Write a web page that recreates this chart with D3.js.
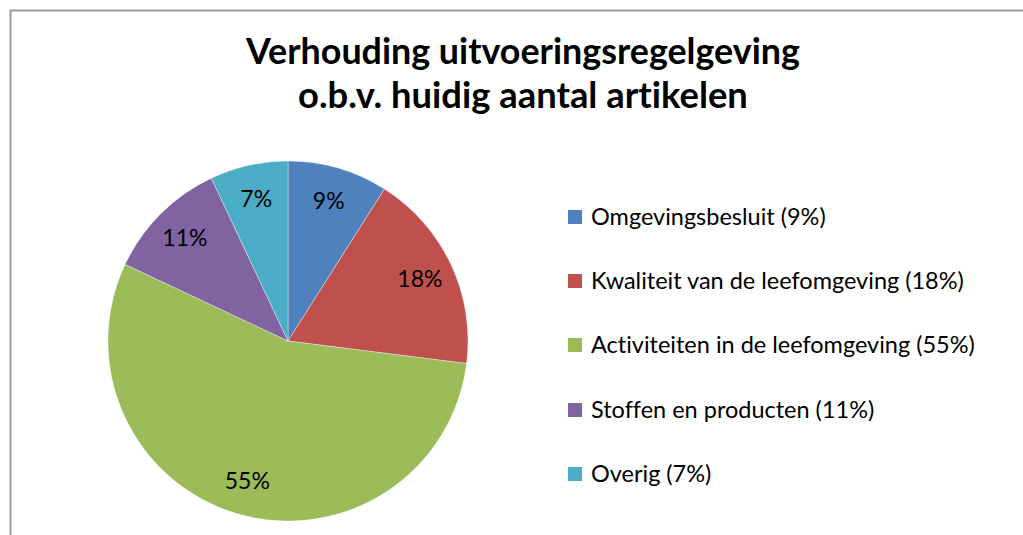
<!DOCTYPE html>
<html>
<head>
<meta charset="utf-8">
<script src="https://cdn.jsdelivr.net/npm/d3@7"></script>
<style>
  html, body { margin: 0; padding: 0; background: #fff; }
  svg { display: block; }
  text { font-variant-ligatures: none; font-feature-settings: "liga" 0, "clig" 0; }
</style>
</head>
<body>
<svg id="chart" width="1023" height="535"></svg>
<script>
const titleLines = ["Verhouding uitvoeringsregelgeving", "o.b.v. huidig aantal artikelen"];
const categories = ["Omgevingsbesluit", "Kwaliteit van de leefomgeving", "Activiteiten in de leefomgeving", "Stoffen en producten", "Overig"];
const values = [9, 18, 55, 11, 7];
const labels = ["9%", "18%", "55%", "11%", "7%"];
const legendLabels = ["Omgevingsbesluit (9%)", "Kwaliteit van de leefomgeving (18%)", "Activiteiten in de leefomgeving (55%)", "Stoffen en producten (11%)", "Overig (7%)"];
const colors = ["#4F81BD", "#C0504D", "#9BBB59", "#8064A2", "#4BACC6"];

const svg = d3.select("#chart");
const FONT = "Lato, 'Open Sans', sans-serif";

// frame
svg.append("rect").attr("x", 10.5).attr("y", 10.5).attr("width", 1100).attr("height", 600)
  .attr("fill", "#fff").attr("stroke", "#9a9a9a").attr("stroke-width", 2);

function fitText(sel, targetWidth, startSize) {
  let size = startSize;
  sel.attr("font-size", size);
  const w = sel.node().getComputedTextLength();
  size = size * targetWidth / w;
  sel.attr("font-size", size);
  return size;
}

// title
const titleWidths = [554, 450];
const titleBase = [64, 108];
titleLines.forEach((t, i) => {
  const tx = svg.append("text").attr("x", 523).attr("y", titleBase[i])
    .attr("text-anchor", "middle").attr("font-family", FONT).attr("font-weight", "bold")
    .attr("fill", "#000").text(t);
  fitText(tx, titleWidths[i], 36);
});

// pie
const cx = 288, cy = 341, R = 180;
const pie = d3.pie().value(d => d).sort(null);
const arcs = pie(values);
const arc = d3.arc().innerRadius(0).outerRadius(R);
const labelArc = d3.arc().innerRadius(R * 0.81).outerRadius(R * 0.81);
const g = svg.append("g").attr("transform", `translate(${cx},${cy})`);
g.selectAll("path").data(arcs).join("path")
  .attr("d", arc).attr("fill", (d, i) => colors[i])
  .attr("stroke", "#fff").attr("stroke-width", 0.6).attr("stroke-opacity", 0.6);
g.selectAll("text").data(arcs).join("text")
  .attr("transform", d => `translate(${labelArc.centroid(d)})`)
  .attr("text-anchor", "middle").attr("dy", "0.35em")
  .attr("font-family", FONT).attr("font-size", 23).attr("fill", "#000")
  .text((d, i) => labels[i]);

// legend
const legendY = [217, 281, 345, 410, 474];
const lg = svg.append("g");
const items = lg.selectAll("g").data(legendLabels).join("g")
  .attr("transform", (d, i) => `translate(568,${legendY[i]})`);
items.append("rect").attr("x", 0).attr("y", -7).attr("width", 14).attr("height", 14)
  .attr("fill", (d, i) => colors[i]);
const texts = items.append("text").attr("x", 23).attr("dy", "0.35em")
  .attr("font-family", FONT).attr("fill", "#000").text(d => d);
// size legend by the longest entry
const longest = texts.filter((d, i) => i === 2);
const ls = fitText(longest, 384, 20);
texts.attr("font-size", ls);
</script>
</body>
</html>
